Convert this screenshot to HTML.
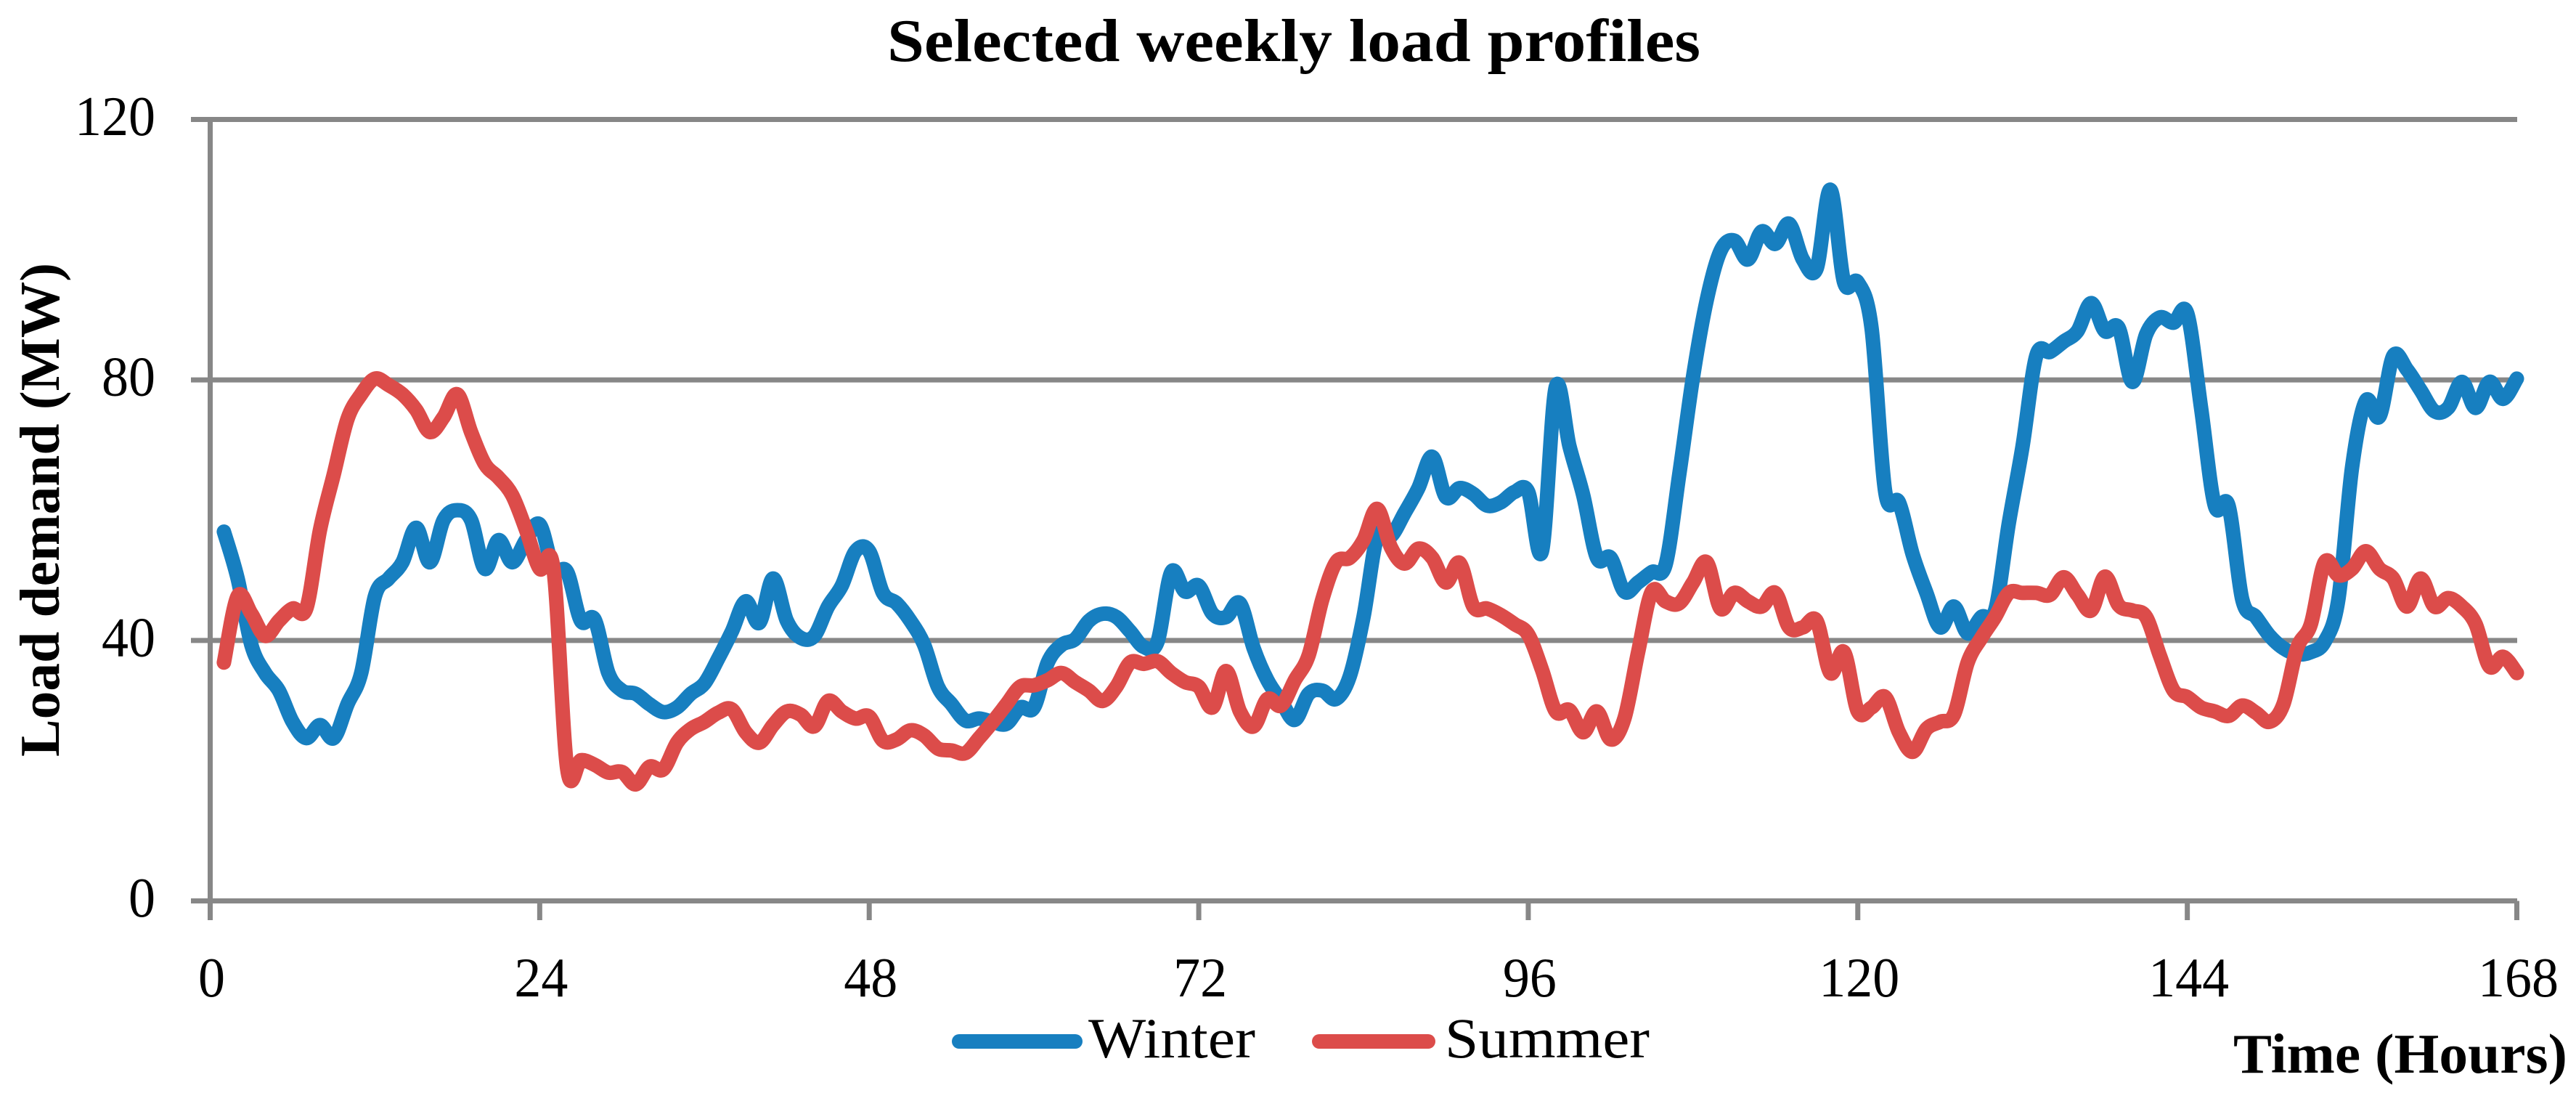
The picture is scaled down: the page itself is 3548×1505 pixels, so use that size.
<!DOCTYPE html>
<html lang="en">
<head>
<meta charset="utf-8">
<title>Selected weekly load profiles</title>
<style>
html,body{margin:0;padding:0;background:#fff;}
svg{display:block;}
text{font-family:"Liberation Serif",serif;fill:#000;}
</style>
</head>
<body>
<svg id="chart" xmlns="http://www.w3.org/2000/svg" width="3548" height="1505" viewBox="0 0 3548 1505">
<rect x="0" y="0" width="3548" height="1505" fill="#fff"/>
<text x="1222" y="84" font-size="84" font-weight="bold" textLength="1120" lengthAdjust="spacingAndGlyphs">Selected weekly load profiles</text>
<text transform="translate(81,1042) rotate(-90)" x="0" y="0" font-size="77" font-weight="bold" textLength="680" lengthAdjust="spacingAndGlyphs">Load demand (MW)</text>
<text x="3076" y="1477" font-size="77" font-weight="bold" textLength="460" lengthAdjust="spacingAndGlyphs">Time (Hours)</text>
<g id="grid"></g>
<g id="axes"></g>
<g id="series"></g>
<g>
<line x1="1321" y1="1434" x2="1481" y2="1434" stroke="#177fc0" stroke-width="20" stroke-linecap="round"/>
<text x="1499" y="1456" font-size="78" textLength="230" lengthAdjust="spacingAndGlyphs">Winter</text>
<line x1="1817" y1="1434" x2="1967" y2="1434" stroke="#dc4c4a" stroke-width="20" stroke-linecap="round"/>
<text x="1990" y="1456" font-size="78" textLength="282" lengthAdjust="spacingAndGlyphs">Summer</text>
</g>
</svg>
<script>
const yTicks = [0, 40, 80, 120];
const xTicks = [0, 24, 48, 72, 96, 120, 144, 168];
const winter = [56.7,49.5,39.3,35,32.3,27.5,25,27,25,30.2,35,46.8,49.5,52,57.3,52,58.5,60,58.5,51,55.4,52,55.4,57.8,51,50.5,43,43.2,35,32.3,31.8,30.2,29,29.7,31.8,33.4,37.2,41.4,46,42.7,49.5,43,40.4,40.7,45.2,48.4,53.7,53.7,47.3,45.7,43,39.3,32.9,30.2,27.7,28,27.5,27.2,29.7,29.7,36.6,39.3,40.2,43,44.1,43.6,41.4,39,39.8,50.5,47.5,48.4,44.1,43.6,45.7,38.8,33.9,30.7,27.8,31.8,32.3,31,34.5,43.6,55.9,56,59.6,63.4,68.2,62,63.4,62.5,60.7,61.2,62.8,62.8,53.7,78.9,69.8,62.3,52.7,52.7,47.5,48.9,50.5,51.6,65.5,80.5,92.3,99.8,101.4,98.5,102.8,100.9,104,98.5,97.1,109.2,95,95,88,62.8,61.2,53.2,47.3,42,45.2,41.1,43.6,44.6,58,69.8,83.7,84.3,85.9,87.5,91.8,87.5,88,79.7,87,89.6,88.8,90.2,75.7,60.7,60.7,46.3,43.6,40.7,38.8,37.9,38.2,39.8,46.3,66.6,76.8,74.4,83.7,81.6,78.4,75.2,75.7,79.7,75.7,79.7,77.1,80.2];
const summer = [36.6,46.8,44.1,40.7,43,44.9,44.9,57,65.5,74,77.8,80.2,79.2,77.8,75.4,72,74.3,77.8,72,67.1,65,62.3,57,51,51,20.3,21.6,20.9,19.7,19.8,17.9,20.6,20.2,24.3,26.4,27.5,28.9,29.4,25.9,24.3,27,29.1,28.6,26.8,30.7,29.1,28,28.3,24.6,24.8,26.2,25.4,23.4,23.1,22.7,25,27.5,30.2,32.9,33.1,33.9,35,33.6,32.3,30.7,32.9,36.6,36.4,36.8,35,33.6,32.9,29.7,35.3,29.1,26.8,31,30,33.9,37.7,46.3,52,52.7,55.4,60.2,54.3,51.8,54.1,52.7,48.9,51.9,45.2,44.9,43.9,42.5,40.9,35.5,29.1,29.3,25.9,29.1,24.8,28,38.2,47.5,46,45.7,48.9,52,44.9,47.3,46,45.2,47.3,42,42,43,35,38.2,29.1,29.7,31.3,25.9,22.9,26.4,27.5,28.6,36.6,40.4,43.6,47.3,47.3,47.3,47,49.7,47,44.6,49.8,45.4,44.6,43.6,37.7,32.3,31.3,29.7,29.1,28.4,30,28.9,27.5,30.2,38.8,42.5,52,50,51,53.7,51,49.5,45.2,49.5,45.2,46.5,45.2,42.5,36,37.5,35];

const SVG_NS = 'http://www.w3.org/2000/svg';
const plotLeft = 289.5, plotRight = 3466.5, plotTop = 164.5, plotBottom = 1240.5;
const xMax = 168, yMax = 120;
const axisColor = '#878787';
function xScale(h) { return plotLeft + (plotRight - plotLeft) * h / xMax; }
function yScale(v) { return plotBottom - (plotBottom - plotTop) * v / yMax; }
function mk(tag, attrs) {
  const el = document.createElementNS(SVG_NS, tag);
  for (const k in attrs) el.setAttribute(k, attrs[k]);
  return el;
}
function smoothPath(values) {
  const pts = values.map((v, i) => [xScale(i + 1), yScale(v)]);
  let d = 'M' + pts[0][0].toFixed(1) + ' ' + pts[0][1].toFixed(1);
  for (let i = 0; i < pts.length - 1; i++) {
    const p0 = pts[Math.max(i - 1, 0)], p1 = pts[i], p2 = pts[i + 1], p3 = pts[Math.min(i + 2, pts.length - 1)];
    const c1x = p1[0] + (p2[0] - p0[0]) / 6, c1y = p1[1] + (p2[1] - p0[1]) / 6;
    const c2x = p2[0] - (p3[0] - p1[0]) / 6, c2y = p2[1] - (p3[1] - p1[1]) / 6;
    d += 'C' + c1x.toFixed(1) + ' ' + c1y.toFixed(1) + ' ' + c2x.toFixed(1) + ' ' + c2y.toFixed(1) + ' ' + p2[0].toFixed(1) + ' ' + p2[1].toFixed(1);
  }
  return d;
}
const grid = document.getElementById('grid');
const axes = document.getElementById('axes');
const seriesGroup = document.getElementById('series');
yTicks.forEach(function (t) {
  const y = yScale(t);
  const line = mk('line', { x1: 263, x2: plotRight + 0.5, y1: y, y2: y, stroke: axisColor, 'stroke-width': 7 });
  
  
  grid.appendChild(line);
  const label = mk('text', { x: 214, y: y + 21.5, 'font-size': 77, 'text-anchor': 'end' });
  
  
  label.textContent = String(t);
  label.setAttribute('textLength', String(t).length * 37);
  label.setAttribute('lengthAdjust', 'spacingAndGlyphs');
  axes.appendChild(label);
});
const yAxisLine = mk('line', { x1: plotLeft, x2: plotLeft, y1: plotTop, y2: plotBottom + 26.5, stroke: axisColor, 'stroke-width': 7 });


axes.appendChild(yAxisLine);
xTicks.forEach(function (t) {
  const x = xScale(t);
  if (t !== 0) {
    const tick = mk('line', { x1: x, x2: x, y1: plotBottom, y2: plotBottom + 26.5, stroke: axisColor, 'stroke-width': 7 });
    
    
    axes.appendChild(tick);
  }
  const label = mk('text', { x: x + 2, y: 1372, 'font-size': 77, 'text-anchor': 'middle' });
  
  
  label.textContent = String(t);
  label.setAttribute('textLength', String(t).length * 37);
  label.setAttribute('lengthAdjust', 'spacingAndGlyphs');
  axes.appendChild(label);
});
const winterLine = mk('path', { d: smoothPath(winter), fill: 'none', stroke: '#177fc0', 'stroke-width': 20, 'stroke-linecap': 'round', 'stroke-linejoin': 'round' });


seriesGroup.appendChild(winterLine);
const summerLine = mk('path', { d: smoothPath(summer), fill: 'none', stroke: '#dc4c4a', 'stroke-width': 20, 'stroke-linecap': 'round', 'stroke-linejoin': 'round' });


seriesGroup.appendChild(summerLine);
</script>
</body>
</html>
